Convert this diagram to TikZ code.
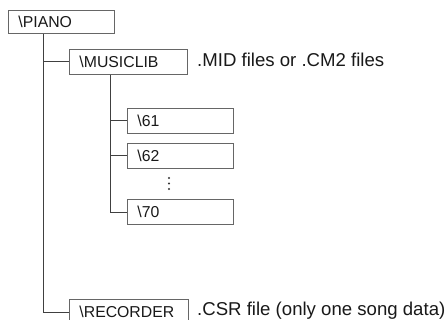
\documentclass[tikz,border=0pt]{standalone}
\usepackage{fontspec}
\setmainfont{Liberation Sans}
\begin{document}
\begin{tikzpicture}[x=1pt,y=-1pt,
  dirbox/.style={draw=black!60, line width=0.9pt, anchor=north west, inner xsep=10pt, inner ysep=0pt,
    minimum height=25pt, align=left, font=\fontsize{15.8}{18}\selectfont, text=black!90},
  conn/.style={draw=black!75, line width=0.9pt},
  note/.style={anchor=base west, inner sep=0pt, font=\fontsize{18.6}{22}\selectfont, text=black!90},
  dotmark/.style={fill=black!80, draw=none}]
\useasboundingbox (0,0) rectangle (446,320);
\fill[white] (0,0) rectangle (446,320);

\node[dirbox, text width=86pt, minimum height=23pt] (piano) at (8,10) {\textbackslash PIANO};
\node[dirbox, text width=98pt] (musiclib) at (69,49) {\textbackslash MUSICLIB};
\node[dirbox, text width=86pt] (d61) at (127,108) {\textbackslash 61};
\node[dirbox, text width=86pt] (d62) at (127,143) {\textbackslash 62};
\node[dirbox, text width=86pt] (d70) at (127,199) {\textbackslash 70};
\node[dirbox, text width=99pt] (recorder) at (69,299) {\textbackslash RECORDER};

\draw[conn] (piano.south west) ++(35,0) |- (recorder.west);
\draw[conn] (piano.south west) ++(35,0) |- (musiclib.west);
\draw[conn] (musiclib.south west) ++(41,0) |- (d70.west);
\draw[conn] (musiclib.south west) ++(41,0) |- (d61.west);
\draw[conn] (musiclib.south west) ++(41,0) |- (d62.west);

\fill[dotmark] (169,178) circle (1.2);
\fill[dotmark] (169,183.5) circle (1.2);
\fill[dotmark] (169,189) circle (1.2);

\node[note] (n1) at (197,67) {.MID files or .CM2 files};
\node[note] (n2) at (197,315) {.CSR file (only one song data)};
\end{tikzpicture}
\end{document}
